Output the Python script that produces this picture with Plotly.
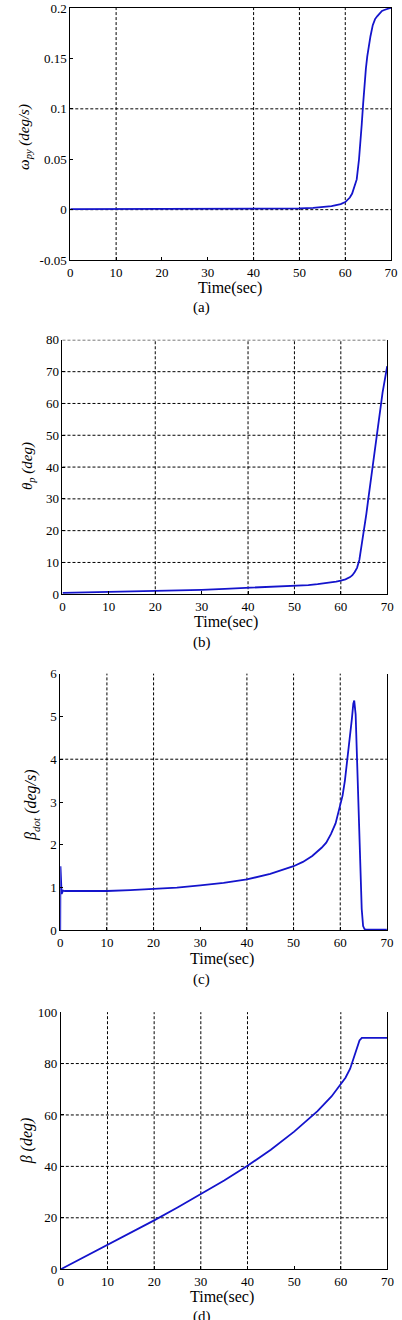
import plotly.graph_objects as go

W, H = 402, 1320

# ---------------- data ----------------
# (a) omega_py (deg/s)
t_a = [0, 10, 20, 30, 40, 45, 50, 53, 55, 57, 58, 59, 60, 60.5, 61, 61.5, 62, 62.5, 63,
       63.3, 63.6, 63.9, 64.2, 64.5, 64.8, 65.1, 65.5, 66, 66.5, 67, 67.5, 68, 68.5, 69, 69.5, 70]
w_py = [0.0005, 0.0005, 0.0005, 0.0005, 0.0006, 0.0008, 0.0012, 0.0018, 0.0024, 0.0035, 0.0045,
        0.0055, 0.0075, 0.0095, 0.012, 0.016, 0.022, 0.03, 0.05, 0.064, 0.085, 0.105, 0.125, 0.14,
        0.152, 0.162, 0.172, 0.183, 0.189, 0.192, 0.195, 0.197, 0.198, 0.199, 0.1995, 0.2]

# (b) theta_p (deg)
t_b = [0, 5, 10, 15, 20, 25, 30, 35, 40, 45, 50, 53, 55, 57, 59, 60, 61, 62, 62.5, 63, 63.5,
       64, 64.5, 65, 65.5, 66, 66.5, 67, 67.5, 68, 68.5, 69, 69.5, 70]
theta_p = [0.4, 0.55, 0.7, 0.85, 1.0, 1.2, 1.4, 1.7, 2.0, 2.3, 2.6, 2.9, 3.2, 3.5, 4.0, 4.3, 4.7,
           5.4, 6.0, 7.0, 8.3, 10.8, 15.3, 20.0, 25.2, 30.8, 36.3, 41.7, 47.3, 53.0, 58.2, 63.4,
           67.6, 71.7]

# (c) beta_dot (deg/s)
t_c = [0, 0.05, 0.3, 0.6, 1, 5, 10, 15, 20, 25, 30, 35, 40, 45, 50, 52, 54, 56, 57, 58, 59, 60,
       60.5, 61, 61.5, 62, 62.5, 62.8, 63.0, 63.3, 63.5, 63.8, 64.0, 64.3, 64.6, 64.9, 65.2, 65.5,
       66, 70]
beta_dot = [0, 1.5, 0.85, 0.93, 0.92, 0.92, 0.92, 0.94, 0.97, 1.0, 1.05, 1.11, 1.19, 1.32, 1.5,
            1.6, 1.74, 1.93, 2.05, 2.25, 2.5, 2.9, 3.15, 3.5, 3.95, 4.45, 4.95, 5.3, 5.37, 5.05,
            4.4, 3.3, 2.6, 1.5, 0.5, 0.1, 0.03, 0.02, 0.02, 0.02]

# (d) beta (deg)
t_d = [0, 5, 10, 15, 20, 25, 30, 35, 40, 45, 50, 55, 58, 60, 61, 62, 63, 63.5, 64, 64.5, 65, 70]
beta = [0, 4.7, 9.4, 14.2, 19.0, 24.0, 29.2, 34.5, 40.2, 46.5, 53.5, 61.5, 67.2, 71.8, 74.5,
        78.0, 83.5, 86.5, 89.0, 90.0, 90.0, 90.0]

# tick labels
x_ticks = [0, 10, 20, 30, 40, 50, 60, 70]
y_ticks_a = [-0.05, 0, 0.05, 0.1, 0.15, 0.2]
y_text_a = ["-0.05", "0", "0.05", "0.1", "0.15", "0.2"]
y_ticks_b = [0, 10, 20, 30, 40, 50, 60, 70, 80]
y_ticks_c = [0, 1, 2, 3, 4, 5, 6]
y_ticks_d = [0, 20, 40, 60, 80, 100]

# visible grid lines (as they appear in the reference)
grid_x_a = [10, 40, 50, 60]
grid_y_a = [0, 0.1]
grid_x_b = [20, 40, 50, 60]
grid_y_b = [10, 20, 30, 40, 50, 60, 70, 80]
grid_x_c = [10, 20, 40, 50, 60]
grid_y_c = [4]
grid_x_d = [10, 20, 30, 40, 60]
grid_y_d = [20, 40, 60, 80]

# ---------------- layout helpers ----------------
FONT = "Liberation Serif"
LINE_COLOR = "#1414cc"

def px_x(p):
    return p / W

def px_y(p):
    return 1 - p / H

panels = [
    dict(t=t_a, y=w_py, xd=(69, 398), yd=(1, 256), yr=(-0.05, 0.2), yt=y_ticks_a, ytt=y_text_a,
         gx=grid_x_a, gy=grid_y_a, top=True),
    dict(t=t_b, y=theta_p, xd=(61, 394), yd=(336.7, 594), yr=(0, 80), yt=y_ticks_b, ytt=None,
         gx=grid_x_b, gy=grid_y_b, top=False),
    dict(t=t_c, y=beta_dot, xd=(58.7, 393.7), yd=(674.3, 934), yr=(0, 6), yt=y_ticks_c, ytt=None,
         gx=grid_x_c, gy=grid_y_c, top=False),
    dict(t=t_d, y=beta, xd=(59.3, 394.3), yd=(1016.7, 1276.7), yr=(0, 100), yt=y_ticks_d, ytt=None,
         gx=grid_x_d, gy=grid_y_d, top=False),
]

fig = go.Figure()
shapes = []
layout = dict(
    width=W, height=H, margin=dict(l=0, r=0, t=0, b=0),
    paper_bgcolor="white", plot_bgcolor="white", showlegend=False,
    font=dict(family=FONT, size=13, color="black"),
)

grid_style = dict(color="black", width=1, dash="3px,2px")

for i, p in enumerate(panels, start=1):
    xa = "x" if i == 1 else f"x{i}"
    ya = "y" if i == 1 else f"y{i}"
    fig.add_trace(go.Scatter(x=p["t"], y=p["y"], mode="lines", xaxis=xa, yaxis=ya,
                             line=dict(color=LINE_COLOR, width=1.8), hoverinfo="skip"))
    xkey = "xaxis" if i == 1 else f"xaxis{i}"
    ykey = "yaxis" if i == 1 else f"yaxis{i}"
    layout[xkey] = dict(
        domain=[px_x(p["xd"][0]), px_x(p["xd"][1])], anchor=ya, range=[0, 70],
        tickvals=x_ticks, showgrid=False, zeroline=False, showline=True, linecolor="black",
        linewidth=1, mirror=p["top"], ticks="inside", ticklen=3, tickcolor="black",
        tickfont=dict(family=FONT, size=13, color="black"),
    )
    layout[ykey] = dict(
        domain=[px_y(p["yd"][1]), px_y(p["yd"][0])], anchor=xa, range=list(p["yr"]),
        tickvals=p["yt"], showgrid=False, zeroline=False, showline=True, linecolor="black",
        linewidth=1, mirror=True, ticks="inside", ticklen=3, tickcolor="black",
        tickfont=dict(family=FONT, size=13, color="black"),
    )
    if p["ytt"] is not None:
        layout[ykey]["ticktext"] = p["ytt"]
    for gv in p["gx"]:
        shapes.append(dict(type="line", xref=xa, yref=f"{ya} domain", x0=gv, x1=gv, y0=0, y1=1,
                           line=grid_style, layer="below"))
    for gv in p["gy"]:
        shapes.append(dict(type="line", xref=f"{xa} domain", yref=ya, x0=0, x1=1, y0=gv, y1=gv,
                           line=grid_style, layer="below"))

layout["shapes"] = shapes

annotations = []

def ann(text, xp, yp, size, angle=0):
    annotations.append(dict(text=text, x=px_x(xp), y=px_y(yp), xref="paper", yref="paper",
                            xanchor="center", yanchor="middle", showarrow=False,
                            textangle=angle, font=dict(family=FONT, size=size, color="black")))

# x titles and captions
ann("Time(sec)", 233, 284, 16)
ann("(a)", 204, 304, 15)
ann("Time(sec)", 229, 622, 16)
ann("(b)", 204, 643, 15)
ann("Time(sec)", 225, 963, 16)
ann("(c)", 204, 984, 15)
ann("Time(sec)", 225, 1305, 16)
ann("(d)", 204, 1325, 15)

# y titles
ann("<i>ω<sub>py</sub> (deg/s)</i>", 22, 131, 15, -90)
ann("<i>θ<sub>p</sub> (deg)</i>", 25, 464, 15, -90)
ann("<i>β<sub>dot</sub> (deg/s)</i>", 30, 807, 16, -90)
ann("<i>β (deg)</i>", 25, 1147, 16, -90)

layout["annotations"] = annotations
fig.update_layout(**layout)
fig.write_html("out.html")
